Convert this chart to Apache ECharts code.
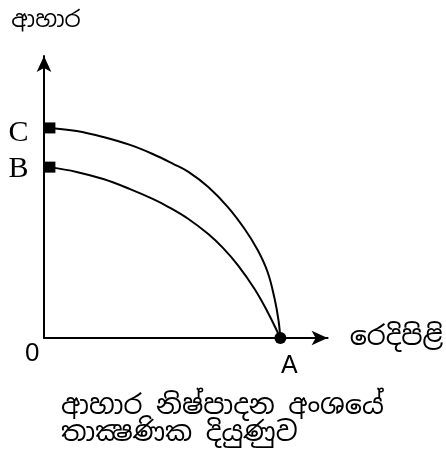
<!DOCTYPE html>
<html>
<head>
<meta charset="utf-8">
<script src="https://cdn.jsdelivr.net/npm/echarts@6/dist/echarts.min.js"></script>
<style>
  html, body { margin: 0; padding: 0; background: #fff; }
  #chart { width: 446px; height: 455px; }
</style>
</head>
<body>
<div id="chart"></div>
<script>
// curve points (A = 100 on the x scale)
var outerX = [2.5, 13.8, 25.1, 36.4, 46.0, 54.8, 61.1, 69.5, 77.8, 84.9, 90.4, 94.6, 97.5, 99.2, 100];
var outerY = [87.9, 86.6, 84.1, 80.8, 77.0, 72.8, 69.5, 63.2, 54.8, 45.6, 36.8, 27.6, 16.7, 7.5, 0];
var innerX = [2.5, 13.8, 25.1, 36.4, 46.0, 52.7, 61.1, 69.5, 75.7, 82.0, 89.1, 94.6, 100];
var innerY = [71.5, 69.5, 66.5, 62.3, 58.2, 54.8, 49.8, 43.5, 37.7, 30.5, 20.5, 10.9, 0];
var pointNames = ['C', 'B', 'A'];
var pointX = [2.5, 2.5, 100];
var pointY = [87.9, 71.5, 0];
var yName = 'ආහාර';
var xName = 'රෙදිපිළි';
var caption = 'ආහාර නිෂ්පාදන අංශයේ\nතාක්‍ෂණික දියුණුව';

function pairs(xs, ys) {
    var out = [];
    for (var i = 0; i < xs.length; i++) {
        out.push([xs[i], ys[i]]);
    }
    return out;
}

var chart = echarts.init(document.getElementById('chart'));

var serifFont = 'Liberation Serif, DejaVu Serif, serif';
var sansFont = 'Liberation Sans, DejaVu Sans, sans-serif';
var sinhalaFont = 'Noto Sans Sinhala, Noto Sans, sans-serif';

var option = {
    backgroundColor: '#fff',
    animation: false,
    title: {
        text: caption,
        left: 56,
        top: 388,
        textStyle: {
            fontFamily: sinhalaFont,
            fontSize: 27,
            fontWeight: 'normal',
            color: '#000',
            lineHeight: 27
        }
    },
    grid: {
        left: 44,
        right: 115,
        top: 56,
        bottom: 117
    },
    xAxis: {
        type: 'value',
        min: 0,
        max: 120,
        name: xName,
        nameLocation: 'end',
        nameGap: 22,
        nameTextStyle: { fontFamily: sinhalaFont, fontSize: 27, color: '#000', align: 'left', verticalAlign: 'middle', padding: [0, 0, 8, 0] },
        axisLine: { onZero: false, symbol: ['none', 'arrow'], symbolSize: [11, 16], lineStyle: { color: '#000', width: 2 } },
        axisTick: { show: false },
        axisLabel: { show: false },
        splitLine: { show: false }
    },
    yAxis: {
        type: 'value',
        min: 0,
        max: 118,
        name: yName,
        nameLocation: 'end',
        nameGap: 24,
        nameTextStyle: { fontFamily: sinhalaFont, fontSize: 23, color: '#000', align: 'center', padding: [0, 0, 0, 4] },
        axisLine: { onZero: false, symbol: ['none', 'arrow'], symbolSize: [11, 16], lineStyle: { color: '#000', width: 2 } },
        axisTick: { show: false },
        axisLabel: { show: false },
        splitLine: { show: false }
    },
    series: [
        {
            type: 'line',
            data: pairs(outerX, outerY),
            smooth: 0.4,
            showSymbol: false,
            lineStyle: { color: '#000', width: 2 }
        },
        {
            type: 'line',
            data: pairs(innerX, innerY),
            smooth: 0.4,
            showSymbol: false,
            lineStyle: { color: '#000', width: 2 }
        },
        {
            type: 'scatter',
            data: [
                { value: [pointX[0], pointY[0]], name: pointNames[0], symbol: 'rect', symbolSize: 11,
                  label: { position: 'left', distance: 16, offset: [0, 5] } },
                { value: [pointX[1], pointY[1]], name: pointNames[1], symbol: 'rect', symbolSize: 11,
                  label: { position: 'left', distance: 16, offset: [0, 2] } },
                { value: [pointX[2], pointY[2]], name: pointNames[2], symbol: 'circle', symbolSize: 12,
                  label: { position: 'bottom', distance: 10, offset: [9, 0], fontFamily: sansFont, fontSize: 25 } }
            ],
            itemStyle: { color: '#000', opacity: 1 },
            label: {
                show: true,
                formatter: '{b}',
                fontFamily: serifFont,
                fontSize: 30,
                color: '#000'
            },
            emphasis: { disabled: true },
            z: 5
        }
    ],
    graphic: [
        {
            type: 'text',
            left: 25,
            top: 341,
            style: { text: '0', font: '26px ' + sansFont, fill: '#000' }
        }
    ]
};

chart.setOption(option);
</script>
</body>
</html>
